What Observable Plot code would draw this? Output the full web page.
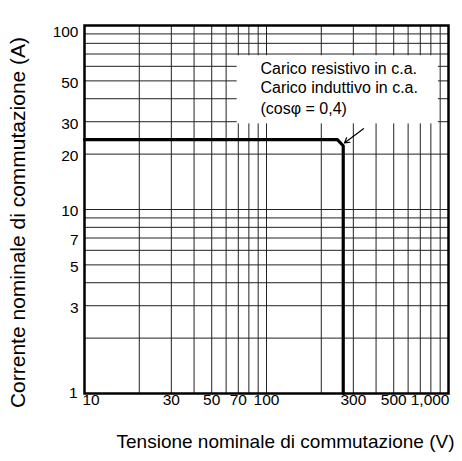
<!DOCTYPE html>
<html>
<head>
<meta charset="utf-8">
<script src="https://cdn.jsdelivr.net/npm/d3@7"></script>
<script src="https://cdn.jsdelivr.net/npm/@observablehq/plot@0.6"></script>
<style>
  html, body { margin: 0; padding: 0; background: #fff; }
  #chart svg { display: block; }
</style>
</head>
<body>
<div id="chart"></div>
<script>
// Curve: switching voltage (V) vs switching current (A)
const curveVoltage = [10, 245, 264, 264];
const curveCurrent = [24, 24, 22.2, 1];

// Grid lines (log decades, every unit)
const xGrid = [10, 20, 30, 40, 50, 60, 70, 80, 90, 100, 200, 300, 400, 500, 600, 700, 800, 900, 1000];
const yGrid = [1, 2, 3, 4, 5, 6, 7, 8, 9, 10, 20, 30, 40, 50, 60, 70, 80, 90, 100];

// Tick labels
const xTicks = [10, 30, 50, 70, 100, 300, 500, 1000];
const xTickLabels = ["10", "30", "50", "70", "100", "300", "500", "1,000"];
const yTicks = [1, 3, 5, 7, 10, 20, 30, 50, 100];
const yTickLabels = ["1", "3", "5", "7", "10", "20", "30", "50", "100"];

// Annotation
const noteLines = ["Carico resistivo in c.a.", "Carico induttivo in c.a.", "(cosφ = 0,4)"];
const noteX = 92.7;
const noteY = [54.6, 43.2, 33.1];
const noteBoxX = [69, 880];
const noteBoxY = [29.2, 68.5];
const arrowFrom = [341, 27.5];
const arrowTo = [268, 23.0];

const xTitle = "Tensione nominale di commutazione (V)";
const yTitle = "Corrente nominale di commutazione (A)";

const font = "'Liberation Sans', Arial, Helvetica, sans-serif";

const curve = curveVoltage.map((v, i) => ({v, a: curveCurrent[i]}));
const xt = xTicks.map((v, i) => ({v, label: xTickLabels[i]}));
const yt = yTicks.map((v, i) => ({v, label: yTickLabels[i]}));
const notes = noteLines.map((t, i) => ({t, y: noteY[i]}));

const chart = Plot.plot({
  width: 462,
  height: 461,
  marginLeft: 84,
  marginRight: 14,
  marginTop: 25,
  marginBottom: 68,
  style: {fontFamily: font, background: "#fff", color: "#000"},
  x: {type: "log", domain: [10, 1000], axis: null},
  y: {type: "log", domain: [1, 100], axis: null},
  marks: [
    Plot.ruleX(xGrid, {stroke: "#222", strokeWidth: 1}),
    Plot.ruleY(yGrid, {stroke: "#222", strokeWidth: 1}),
    Plot.rect([0], {x1: noteBoxX[0], x2: noteBoxX[1], y1: noteBoxY[0], y2: noteBoxY[1], fill: "#fff"}),
    Plot.frame({stroke: "#000", strokeWidth: 2.5}),
    Plot.line(curve, {x: "v", y: "a", stroke: "#000", strokeWidth: 3.2, strokeLinejoin: "miter"}),
    Plot.arrow([0], {x1: arrowFrom[0], y1: arrowFrom[1], x2: arrowTo[0], y2: arrowTo[1], stroke: "#000", strokeWidth: 1.2, headLength: 7}),
    Plot.text(notes, {x: noteX, y: "y", text: "t", textAnchor: "start", lineAnchor: "bottom", fontSize: 16, fill: "#000"}),
    // x tick labels
    Plot.text(xt.slice(0, 1), {x: "v", text: "label", frameAnchor: "bottom", dy: 11, dx: -2, textAnchor: "start", fontSize: 15.5, fill: "#000"}),
    Plot.text(xt.slice(1, -1), {x: "v", text: "label", frameAnchor: "bottom", dy: 11, textAnchor: "middle", fontSize: 15.5, fill: "#000"}),
    Plot.text(xt.slice(-1), {x: "v", text: "label", frameAnchor: "bottom", dy: 11, dx: 1, textAnchor: "end", fontSize: 15.5, fill: "#000"}),
    // y tick labels
    Plot.text(yt.slice(0, 1), {y: "v", text: "label", frameAnchor: "left", dx: -7, dy: 0, textAnchor: "end", fontSize: 15.5, fill: "#000"}),
    Plot.text(yt.slice(1, -1), {y: "v", text: "label", frameAnchor: "left", dx: -6, dy: 2, textAnchor: "end", fontSize: 15.5, fill: "#000"}),
    Plot.text(yt.slice(-1), {y: "v", text: "label", frameAnchor: "left", dx: -6, dy: 7, textAnchor: "end", fontSize: 15.5, fill: "#000"}),
    // axis titles
    Plot.text([xTitle], {frameAnchor: "bottom", dy: 54, dx: 19, textAnchor: "middle", fontSize: 19, fill: "#000"}),
    Plot.text([yTitle], {frameAnchor: "left", dx: -66, dy: 13, rotate: -90, textAnchor: "middle", fontSize: 21, fill: "#000"})
  ]
});
document.getElementById("chart").append(chart);
</script>
</body>
</html>
